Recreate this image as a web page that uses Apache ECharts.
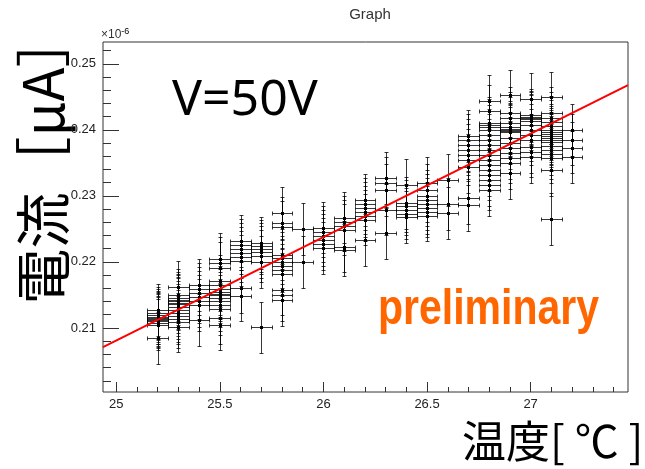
<!DOCTYPE html>
<html>
<head>
<meta charset="utf-8">
<title>Graph</title>
<script src="https://cdn.jsdelivr.net/npm/echarts@6/dist/echarts.min.js"></script>
<style>
  html, body { margin: 0; padding: 0; background: #fff; }
  #chart { width: 645px; height: 469px; }
</style>
</head>
<body>
<div id="chart"></div>
<script>
// measured temperature bins (°C)
const temps = [25.2, 25.3, 25.4, 25.5, 25.6, 25.7, 25.8, 25.9, 26.0, 26.1, 26.2,
  26.3, 26.4, 26.5, 26.6, 26.7, 26.8, 26.9, 27.0, 27.1, 27.2]

// current readings per temperature bin (x10^-6 uA)
const currents = [
  [0.2127, 0.2123, 0.2120, 0.2117, 0.2115, 0.2114, 0.2112, 0.2110, 0.2108, 0.2105, 0.2085],
  [0.2162, 0.2150, 0.2146, 0.2143, 0.2141, 0.2138, 0.2136, 0.2132, 0.2127, 0.2123, 0.2118, 0.2114, 0.2109, 0.2102],
  [0.2165, 0.2159, 0.2153, 0.2147, 0.2141, 0.2135, 0.2112],
  [0.2205, 0.2199, 0.2191, 0.2171, 0.2165, 0.2159, 0.2155, 0.2152, 0.2150, 0.2146, 0.2141, 0.2135, 0.2129, 0.2115, 0.2105],
  [0.2232, 0.2226, 0.2220, 0.2214, 0.2208, 0.2202, 0.2161, 0.2149],
  [0.2229, 0.2224, 0.2220, 0.2215, 0.2209, 0.2200, 0.2101],
  [0.2274, 0.2259, 0.2253, 0.2211, 0.2206, 0.2200, 0.2194, 0.2188, 0.2182, 0.2158, 0.2150, 0.2142],
  [0.2250, 0.2200],
  [0.2252, 0.2246, 0.2239, 0.2233, 0.2227, 0.2221],
  [0.2267, 0.2261, 0.2255, 0.2249, 0.2223, 0.2218],
  [0.2294, 0.2288, 0.2282, 0.2276, 0.2270, 0.2264, 0.2233],
  [0.2327, 0.2320, 0.2309, 0.2279, 0.2244],
  [0.2317, 0.2289, 0.2285, 0.2279, 0.2273, 0.2268],
  [0.2320, 0.2309, 0.2300, 0.2294, 0.2288, 0.2282, 0.2276, 0.2270],
  [0.2324, 0.2288, 0.2274],
  [0.2391, 0.2385, 0.2377, 0.2370, 0.2362, 0.2355, 0.2344, 0.2297, 0.2286],
  [0.2444, 0.2429, 0.2411, 0.2408, 0.2405, 0.2399, 0.2392, 0.2385, 0.2377, 0.2370, 0.2362, 0.2355, 0.2347, 0.2339, 0.2332, 0.2324, 0.2317, 0.2309],
  [0.2452, 0.2426, 0.2418, 0.2411, 0.2405, 0.2402, 0.2400, 0.2398, 0.2396, 0.2388, 0.2380, 0.2373, 0.2365, 0.2358, 0.2350, 0.2335],
  [0.2447, 0.2423, 0.2420, 0.2418, 0.2416, 0.2414, 0.2408, 0.2400, 0.2392, 0.2385, 0.2374, 0.2367, 0.2359],
  [0.2449, 0.2426, 0.2418, 0.2412, 0.2406, 0.2400, 0.2397, 0.2394, 0.2391, 0.2388, 0.2385, 0.2382, 0.2376, 0.2370, 0.2364, 0.2358, 0.2339, 0.2265],
  [0.2400, 0.2385, 0.2373, 0.2359]
]

// error bar half widths
const tempErr = 0.05
const currentErr = 0.0039

// linear fit: I = fitP0 + fitP1 * (T - 25)
const fitP0 = 0.2081
const fitP1 = 0.01565

// axis ticks and labels
const xTicks = [25, 25.5, 26, 26.5, 27]
const yTicks = [0.21, 0.22, 0.23, 0.24, 0.25]
const xMin = 24.936, xMax = 27.47
const yMin = 0.2003, yMax = 0.2533

// minor tick positions
const xMinor = []
for (let v = 25.0; v < xMax; v += 0.1) xMinor.push(+v.toFixed(2))
const yMinor = []
for (let v = 0.202; v < yMax; v += 0.002) yMinor.push(+v.toFixed(3))

const points = []
temps.forEach((t, i) => {
  currents[i].forEach(c => points.push([t, c]))
})

const fitLine = [xMin, xMax].map(t => [t, fitP0 + fitP1 * (t - 25)])

const lineColor = 'rgba(0,0,0,0.78)'

const renderErr = (params, api) => {
  const x = api.value(0)
  const y = api.value(1)
  const c = api.coord([x, y])
  const l = api.coord([x - tempErr, y])
  const r = api.coord([x + tempErr, y])
  const t = api.coord([x, y + currentErr])
  const b = api.coord([x, y - currentErr])
  const px = Math.round(c[0]) + 0.5
  const py = Math.round(c[1]) + 0.5
  const x1 = Math.round(l[0]) + 0.5
  const x2 = Math.round(r[0]) + 0.5
  const y1 = Math.round(t[1]) + 0.5
  const y2 = Math.round(b[1]) + 0.5
  const st = { stroke: lineColor, lineWidth: 1 }
  const seg = (a, b2, c2, d) => ({ type: 'line', shape: { x1: a, y1: b2, x2: c2, y2: d }, style: st })
  return {
    type: 'group',
    children: [
      seg(x1, py, x2, py),
      seg(px, y1, px, y2),
      seg(x1, py - 2, x1, py + 2),
      seg(x2, py - 2, x2, py + 2),
      seg(px - 2, y1, px + 2, y1),
      seg(px - 2, y2, px + 2, y2),
      { type: 'rect', shape: { x: px - 1.5, y: py - 1.5, width: 3, height: 3 }, style: { fill: '#000' } }
    ]
  }
}

const chart = echarts.init(document.getElementById('chart'))

const baseX = {
  type: 'value',
  min: xMin,
  max: xMax,
  position: 'bottom',
  axisLine: { show: false },
  splitLine: { show: false }
}
const baseY = {
  type: 'value',
  min: yMin,
  max: yMax,
  position: 'left',
  axisLine: { show: false },
  splitLine: { show: false }
}

const option = {
  animation: false,
  backgroundColor: '#fff',
  grid: {
    left: 103, top: 42, width: 525, height: 350,
    show: true, borderColor: '#333', borderWidth: 1, backgroundColor: 'transparent'
  },
  xAxis: [
    Object.assign({}, baseX, {
      axisTick: { inside: true, length: 10, lineStyle: { color: '#333' }, customValues: xTicks },
      axisLabel: {
        customValues: xTicks, margin: 6, color: '#222',
        fontFamily: 'Liberation Sans', fontSize: 13,
        formatter: v => String(v)
      }
    }),
    Object.assign({}, baseX, {
      axisTick: { inside: true, length: 5, lineStyle: { color: '#333' }, customValues: xMinor },
      axisLabel: { show: false }
    })
  ],
  yAxis: [
    Object.assign({}, baseY, {
      axisTick: { inside: true, length: 16, lineStyle: { color: '#333' }, customValues: yTicks },
      axisLabel: {
        customValues: yTicks, margin: 7, color: '#222',
        fontFamily: 'Liberation Sans', fontSize: 13,
        formatter: v => v.toFixed(2)
      }
    }),
    Object.assign({}, baseY, {
      axisTick: { inside: true, length: 8, lineStyle: { color: '#333' }, customValues: yMinor },
      axisLabel: { show: false }
    })
  ],
  series: [
    {
      type: 'custom',
      xAxisIndex: 0,
      yAxisIndex: 0,
      data: points,
      renderItem: renderErr,
      z: 2
    },
    {
      type: 'line',
      xAxisIndex: 0,
      yAxisIndex: 0,
      data: fitLine,
      showSymbol: false,
      lineStyle: { color: '#ff0000', width: 2 },
      z: 3
    }
  ],
  graphic: [
    {
      type: 'text', x: 370, y: 15,
      style: { text: 'Graph', font: '15px "Liberation Sans"', fill: '#333', align: 'center', verticalAlign: 'middle' }
    },
    {
      type: 'text', x: 101, y: 35,
      style: {
        text: '{b|×10}{s|-6}',
        verticalAlign: 'middle',
        rich: {
          b: { font: '12px "Liberation Sans"', fill: '#333', color: '#333' },
          s: { font: '9px "Liberation Sans"', color: '#333', verticalAlign: 'top', padding: [0, 0, 6, 0] }
        }
      }
    },
    {
      type: 'text', x: 172, y: 101,
      style: { text: 'V=50V', font: '50px "Noto Sans"', fill: '#000', verticalAlign: 'middle' }
    },
    {
      type: 'text', x: 378, y: 310, scaleX: 0.82,
      style: {
        text: 'preliminary',
        font: 'bold 50px "Liberation Sans"',
        fill: '#ff6600', verticalAlign: 'middle'
      }
    },
    {
      type: 'text', x: 43, y: 158, rotation: Math.PI / 2,
      style: { text: '電流［μA］', font: '56px "Noto Sans CJK JP"', fill: '#000', align: 'center', verticalAlign: 'middle' }
    },
    {
      type: 'text', x: 462, y: 441,
      style: { text: '温度[ ℃ ]', font: '44px "Noto Sans CJK JP"', fill: '#000', verticalAlign: 'middle' }
    }
  ]
}

chart.setOption(option)
</script>
</body>
</html>
